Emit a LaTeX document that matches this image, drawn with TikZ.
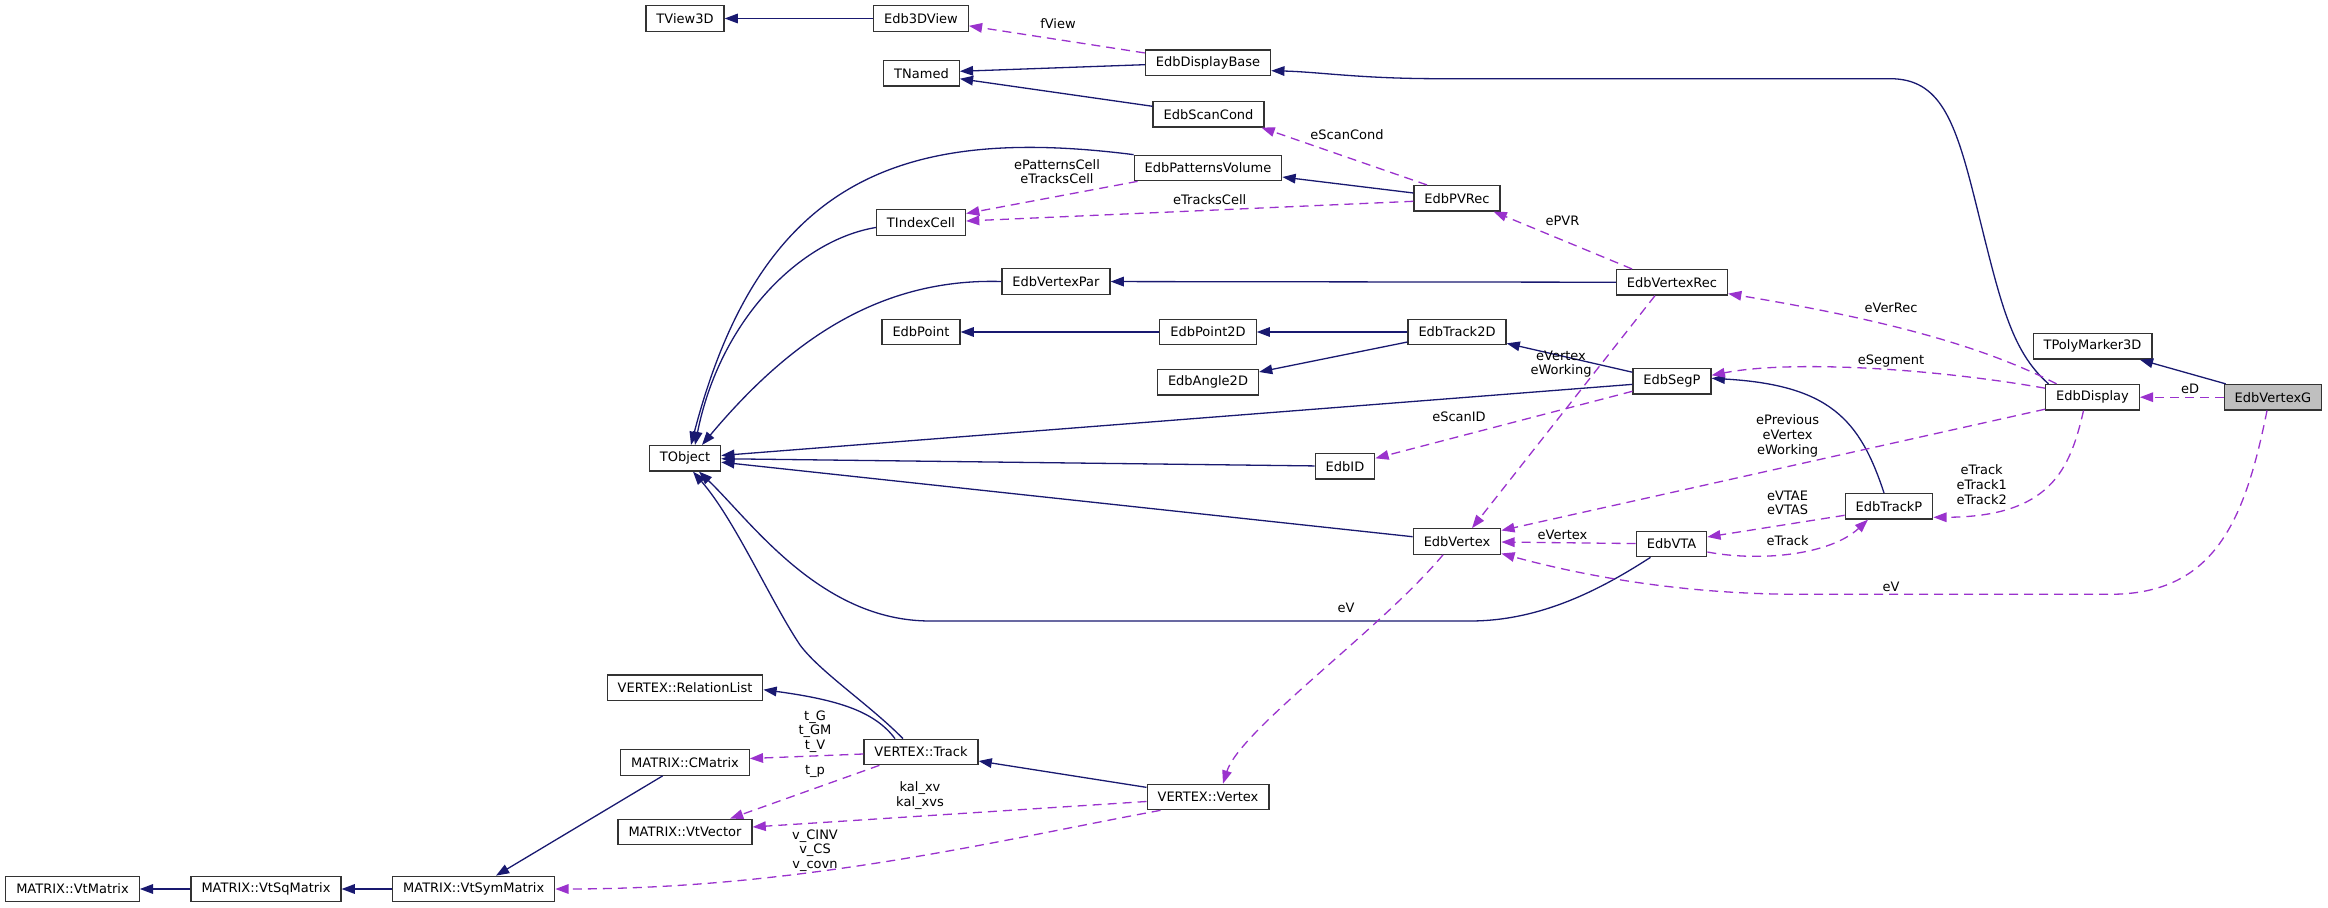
\documentclass[tikz,border=0pt]{standalone}
\usepackage{fontspec}
\setmainfont{DejaVu Sans}
\usetikzlibrary{arrows.meta,calc}
\definecolor{inhcol}{HTML}{191970}
\definecolor{usecol}{HTML}{9A32CD}
\begin{document}
\begin{tikzpicture}[x=0.5pt,y=-0.5pt,
  box/.style={draw=black!80, line width=0.6pt, fill=white, minimum height=12.75pt, inner xsep=5.25pt, inner ysep=0pt, font=\fontsize{6.5pt}{7.35pt}\selectfont},
  inh/.style={draw=inhcol, line width=0.65pt, -{Triangle[length=6.6pt,width=4.8pt]}},
  use/.style={draw=usecol, line width=0.65pt, dash pattern=on 4.5pt off 3pt, -{Triangle[length=6.6pt,width=4.8pt]}},
  lbl/.style={font=\fontsize{6.5pt}{7.35pt}\selectfont, align=center, inner sep=0pt}]
\useasboundingbox (0,0) rectangle (2328,908);
% nodes
\node[box] (TView3D) at (685,18.5) {TView3D};
\node[box] (Edb3DView) at (921,18.5) {Edb3DView};
\node[box] (EdbDisplayBase) at (1208,62.7) {EdbDisplayBase};
\node[box] (TNamed) at (921.5,73.3) {TNamed};
\node[box] (EdbScanCond) at (1208.5,114.3) {EdbScanCond};
\node[box] (EdbPatternsVolume) at (1208,168) {EdbPatternsVolume};
\node[box] (EdbPVRec) at (1457,198.3) {EdbPVRec};
\node[box] (TIndexCell) at (921,222.5) {TIndexCell};
\node[box] (EdbVertexPar) at (1056,281.5) {EdbVertexPar};
\node[box] (EdbVertexRec) at (1672,282.3) {EdbVertexRec};
\node[box] (EdbPoint) at (921,332) {EdbPoint};
\node[box] (EdbPoint2D) at (1208,332) {EdbPoint2D};
\node[box] (EdbTrack2D) at (1457,332) {EdbTrack2D};
\node[box] (TPolyMarker3D) at (2092.5,346.3) {TPolyMarker3D};
\node[box] (EdbAngle2D) at (1208,382.3) {EdbAngle2D};
\node[box] (EdbSegP) at (1672,381.3) {EdbSegP};
\node[box] (EdbDisplay) at (2092.5,397.2) {EdbDisplay};
\node[box,fill=gray!50] (EdbVertexG) at (2273,397.2) {EdbVertexG};
\node[box] (TObject) at (685,458.3) {TObject};
\node[box] (EdbID) at (1345,466.3) {EdbID};
\node[box] (EdbTrackP) at (1889,506.3) {EdbTrackP};
\node[box] (EdbVertex) at (1457,541.5) {EdbVertex};
\node[box] (EdbVTA) at (1671.5,544) {EdbVTA};
\node[box] (VRel) at (685,687.7) {VERTEX::RelationList};
\node[box] (VTrack) at (921,752) {VERTEX::Track};
\node[box] (MCMatrix) at (685,762.5) {MATRIX::CMatrix};
\node[box] (VVertex) at (1208,797) {VERTEX::Vertex};
\node[box] (MVtVector) at (685,832) {MATRIX::VtVector};
\node[box] (MVtMatrix) at (72.5,889) {MATRIX::VtMatrix};
\node[box] (MVtSq) at (266,889) {MATRIX::VtSqMatrix};
\node[box] (MVtSym) at (473.7,889) {MATRIX::VtSymMatrix};
% inheritance
\draw[inh] (Edb3DView) -- (TView3D);
\draw[inh] ($(EdbDisplayBase.west)+(0,2)$) -- ($(TNamed.east)+(0,-2)$);
\draw[inh] (EdbScanCond) -- (TNamed);
\draw[inh] (EdbPatternsVolume.north west) .. controls (900,125) and (760,180) .. ($(TObject.north)+(6,0)$);
\draw[inh] ($(TIndexCell.west)+(0,5)$) .. controls (800,240) and (720,320) .. ($(TObject.north)+(10,0)$);
\draw[inh] (EdbVertexPar.west) .. controls (880,278) and (790,340) .. ($(TObject.north)+(17,0)$);
\draw[inh] (EdbVertexRec) -- (EdbVertexPar);
\draw[inh] (EdbPVRec) -- (EdbPatternsVolume);
\draw[inh] (EdbPoint2D) -- (EdbPoint);
\draw[inh] (EdbTrack2D) -- (EdbPoint2D);
\draw[inh] (EdbTrack2D) -- (EdbAngle2D);
\draw[inh] (EdbSegP) -- (EdbTrack2D);
\draw[inh] (EdbSegP) -- (TObject);
\draw[inh] (EdbID) -- (TObject);
\draw[inh] (EdbVertex) -- (TObject);
\draw[inh] ($(EdbVTA.south)+(-21,0)$) .. controls (1600,590) and (1540,621) .. (1470,621) -- (930,621) .. controls (820,621) and (750,520) .. ($(TObject.south)+(14,0)$);
\draw[inh] ($(VTrack.north)+(-18,0)$) .. controls (870,705) and (820,672) .. (800,645) .. controls (770,600) and (735,520) .. ($(TObject.south)+(8,0)$);
\draw[inh] ($(VTrack.north)+(-26,0)$) .. controls (875,712) and (840,700) .. ($(VRel.east)+(0,2)$);
\draw[inh] (VVertex) -- (VTrack);
\draw[inh] (MCMatrix) -- (MVtSym);
\draw[inh] (MVtSym) -- (MVtSq);
\draw[inh] (MVtSq) -- (MVtMatrix);
\draw[inh] ($(EdbDisplay.north)+(-44,0)$) .. controls (2010,350) and (2000,300) .. (1975,200) .. controls (1955,120) and (1940,78.7) .. (1890,78.7) -- (1440,78.7) .. controls (1360,78.7) and (1320,72) .. ($(EdbDisplayBase.east)+(0,8)$);
\draw[inh] ($(EdbTrackP.north)+(-5,0)$) .. controls (1860,420) and (1830,385) .. ($(EdbSegP.east)+(0,-3)$);
\draw[inh] (EdbVertexG) -- (TPolyMarker3D);
% usage
\draw[use] (EdbDisplayBase) -- (Edb3DView);
\draw[use] ($(EdbPVRec.north)+(-30,0)$) -- ($(EdbScanCond.south east)+(-3,0)$);
\draw[use] ($(EdbPatternsVolume.south west)+(4,0)$) -- ($(TIndexCell.east)+(0,-9)$);
\draw[use] ($(EdbPVRec.west)+(0,3)$) -- ($(TIndexCell.east)+(0,-1.5)$);
\draw[use] ($(EdbVertexRec.north)+(-40,0)$) -- ($(EdbPVRec.south east)+(-7,0)$);
\draw[use] ($(EdbVertexRec.south)+(-17,0)$) -- ($(EdbVertex.north)+(15,0)$);
\draw[use] ($(EdbDisplay.north)+(-36,0)$) .. controls (1990,350) and (1900,322) .. ($(EdbVertexRec.south east)+(0,-2)$);
\draw[use] ($(EdbDisplay.west)+(0,-9)$) .. controls (1930,368) and (1790,360) .. ($(EdbSegP.east)+(0,-6)$);
\draw[use] ($(EdbSegP.west)+(0,10)$) -- ($(EdbID.east)+(0,-8)$);
\draw[use] ($(EdbDisplay.west)+(0,12)$) -- ($(EdbVertex.east)+(0,-11)$);
\draw[use] ($(EdbDisplay.south)+(-9,0)$) .. controls (2070,470) and (2050,517) .. ($(EdbTrackP.east)+(0,11)$);
\draw[use] (EdbVertexG) -- (EdbDisplay);
\draw[use] ($(EdbVertexG.south)+(-6,0)$) .. controls (2245,520) and (2215,594.3) .. (2110,594.3) -- (1800,594.3) .. controls (1680,594.3) and (1580,575) .. ($(EdbVertex.east)+(0,12)$);
\draw[use] ($(EdbTrackP.west)+(0,9)$) -- ($(EdbVTA.east)+(0,-7)$);
\draw[use] ($(EdbVTA.east)+(0,8)$) .. controls (1760,562) and (1830,555) .. ($(EdbTrackP.south)+(-21,0)$);
\draw[use] (EdbVTA) -- (EdbVertex);
\draw[use] ($(EdbVertex.south)+(-14,0)$) .. controls (1380,630) and (1240,730) .. ($(VVertex.north)+(15,0)$);
\draw[use] ($(VTrack.west)+(0,2)$) -- ($(MCMatrix.east)+(0,-4)$);
\draw[use] ($(VTrack.south west)+(16,0)$) -- ($(MVtVector.north)+(45,0)$);
\draw[use] ($(VVertex.west)+(0,4.5)$) -- ($(MVtVector.east)+(0,-5)$);
\draw[use] ($(VVertex.south west)+(14,0)$) .. controls (1000,840) and (800,889) .. (MVtSym.east);
% labels
\node[lbl] (l1) at (1058,23.3) {fView};
\node[lbl] (l2) at (1347,134.3) {eScanCond};
\node[lbl] (l3) at (1057,171.7) {ePatternsCell\\eTracksCell};
\node[lbl] (l4) at (1209.7,199.3) {eTracksCell};
\node[lbl] (l5) at (1562.5,220.7) {ePVR};
\node[lbl] (l6) at (1891,307.7) {eVerRec};
\node[lbl] (l7) at (1561,364.2) {eVertex\\eWorking};
\node[lbl] (l8) at (1891,360.7) {eSegment};
\node[lbl] (l9) at (1459,416.7) {eScanID};
\node[lbl] (l10) at (1787.6,435.8) {ePrevious\\eVertex\\eWorking};
\node[lbl] (l11) at (1981.7,484.8) {eTrack\\eTrack1\\eTrack2};
\node[lbl] (l12) at (1787.6,503) {eVTAE\\eVTAS};
\node[lbl] (l13) at (1562.5,534.8) {eVertex};
\node[lbl] (l14) at (1787.6,540.7) {eTrack};
\node[lbl] (l15) at (1891,586.7) {eV};
\node[lbl] (l16) at (2190,388.5) {eD};
\node[lbl] (l17) at (1346,607.7) {eV};
\node[lbl] (l18) at (815,731.7) {t\_G\\t\_GM\\t\_V};
\node[lbl] (l19) at (815,771.7) {t\_p};
\node[lbl] (l20) at (920,795.8) {kal\_xv\\kal\_xvs};
\node[lbl] (l21) at (815,850.5) {v\_CINV\\v\_CS\\v\_covn};
\end{tikzpicture}
\end{document}
